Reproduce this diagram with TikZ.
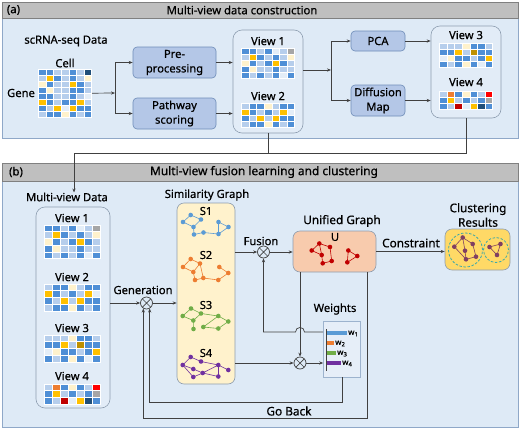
\documentclass[tikz,border=0pt]{standalone}
\usepackage{fontspec}
\setmainfont{Noto Sans}[FakeBold=0.6]
\usetikzlibrary{arrows.meta,calc}
\definecolor{mB}{HTML}{4F8FD6}
\definecolor{mL}{HTML}{B6CEEC}
\definecolor{mW}{HTML}{E4EEF8}
\definecolor{mP}{HTML}{FFF2CC}
\definecolor{mY}{HTML}{FFC000}
\definecolor{mK}{HTML}{BF9000}
\definecolor{mN}{HTML}{1F4E79}
\definecolor{mR}{HTML}{FF0000}
\definecolor{mD}{HTML}{C00000}
\definecolor{mG}{HTML}{A6A6A6}
\definecolor{mO}{HTML}{ED7D31}
\definecolor{pbody}{HTML}{DEEAF6}
\definecolor{pbord}{HTML}{8FA8C8}
\definecolor{hfill}{HTML}{BFBFBF}
\definecolor{hbord}{HTML}{808080}
\definecolor{procfill}{HTML}{B4C7E7}
\definecolor{procbd}{HTML}{6E8CB8}
\definecolor{viewfill}{HTML}{E2ECF7}
\definecolor{viewbd}{HTML}{8D9DB0}
\definecolor{cline}{HTML}{404040}
\definecolor{gBlue}{HTML}{5B9BD5}
\definecolor{gOrange}{HTML}{ED7D31}
\definecolor{gGreen}{HTML}{70AD47}
\definecolor{gPurple}{HTML}{7030A0}
\definecolor{gRed}{HTML}{C00000}
\definecolor{gPlum}{HTML}{7F3F62}
\definecolor{simfill}{HTML}{FFF2CC}
\definecolor{unifill}{HTML}{F8CBAD}
\definecolor{clufill}{HTML}{FFD966}
\definecolor{ringc}{HTML}{3FA9A8}
\definecolor{wfill}{HTML}{E6EEF8}
\definecolor{wbd}{HTML}{9DB3CE}
\newcommand\heatmap[5]{%
  \foreach \hrow [count=\hr] in {#5} {
    \foreach \hc [count=\hk] in \hrow {
      \path[fill=m\hc, draw=white, line width=0.5pt] ({#1+(\hk-1)*#3},{#2+(\hr-1)*#4}) rectangle ++(#3,#4);
    }
  }
}
\newcommand\netgraph[3]{%
  \foreach \px/\py [count=\qi] in {#2} {\coordinate (q\qi) at (\px,\py);}
  \foreach \ea/\eb in {#3} {\draw[draw=#1, line width=0.6pt] (q\ea) -- (q\eb);}
  \foreach \px/\py in {#2} {\fill[fill=#1] (\px,\py) circle (2.3pt);}
}
\begin{document}
\begin{tikzpicture}[x=1pt,y=-1pt,
  font=\fontsize{11.2}{14.5}\selectfont,
  conn/.style={draw=cline, line width=0.7pt, -{Stealth[length=4pt,width=3.2pt]}},
  plain/.style={draw=cline, line width=0.7pt},
  procbox/.style={draw=procbd, fill=procfill, rounded corners=4pt, line width=0.6pt, align=center, inner sep=0pt},
  viewbox/.style={draw=viewbd, fill=viewfill, rounded corners=9pt, line width=0.6pt, inner sep=0pt},
  gbox/.style={draw=viewbd, rounded corners=7pt, line width=0.6pt, inner sep=0pt},
  otim/.style={circle, draw=cline, line width=0.7pt, minimum size=12pt, inner sep=0pt,
    path picture={\draw[cline, line width=0.7pt] (path picture bounding box.north west) -- (path picture bounding box.south east) (path picture bounding box.north east) -- (path picture bounding box.south west);}},
  lbl/.style={inner sep=0pt},
  big/.style={inner sep=0pt, font=\fontsize{11.8}{14.5}\selectfont},
  bl/.style={inner sep=0pt, font=\fontsize{11}{14}\selectfont\bfseries},
  hdr/.style={inner sep=0pt, font=\fontsize{11.3}{13}\selectfont},
  wl/.style={inner sep=0pt, anchor=west, font=\fontsize{8}{9}\selectfont}
]
\useasboundingbox (0,0) rectangle (520,429);
\fill[white] (0,0) rectangle (520,429);
% ---------- panel (a)
\draw[pbord, fill=pbody, line width=0.7pt] (2,18) rectangle (518,138);
\draw[hbord, fill=hfill, line width=0.7pt] (2,2) rectangle (518,18);
\node[hdr] (pa) at (13.5,10) {(a)};
\node[hdr] (ta) at (242,10) {Multi-view data construction};
\node[lbl] (scd) at (66,41) {scRNA-seq Data};
\node[lbl] (cellt) at (65,63) {Cell};
\node[lbl] (genet) at (21,93) {Gene};
\node[inner sep=0pt, minimum width=53.2pt, minimum height=48pt, anchor=north west] (gmat) at (38.5,69) {};
\heatmap{38.5}{69}{7.6}{6}{{B,B,L,L,B,L,N},{L,Y,B,L,B,L,P},{P,B,L,L,Y,B,L},{B,P,L,L,B,B,L},{B,B,L,L,B,L,W},{Y,B,L,B,B,Y,L},{B,L,Y,W,Y,B,B},{L,B,B,P,B,L,B}}
\node[procbox, minimum width=83pt, minimum height=31pt] (pre) at (174.5,62.5) {Pre-\\processing};
\node[procbox, minimum width=83pt, minimum height=31pt] (pws) at (174.5,113.5) {Pathway\\scoring};
\node[viewbox, minimum width=70pt, minimum height=103pt] (v12) at (268,81.5) {};
\node[lbl] (v1t) at (268,41) {View 1};
\heatmap{241.5}{48}{7.6}{6}{{B,B,L,B,W,L,G},{L,Y,B,L,B,L,P},{P,B,L,B,Y,B,L},{B,P,L,L,B,L,L},{B,L,B,L,B,W,B}}
\node[lbl] (v2t) at (268,96) {View 2};
\heatmap{241.5}{103}{7.6}{6}{{L,B,B,P,L,B,B},{Y,B,L,B,L,Y,W},{B,L,Y,L,Y,B,B},{L,B,B,P,B,L,B}}
\node[procbox, minimum width=54pt, minimum height=20pt] (pca) at (378,41) {PCA};
\node[procbox, minimum width=54pt, minimum height=31pt] (dif) at (378,100.5) {Diffusion\\Map};
\node[viewbox, minimum width=70pt, minimum height=92pt] (v34) at (466,72) {};
\node[lbl] (v3t) at (466,35) {View 3};
\heatmap{439.5}{43}{7.6}{6}{{L,L,L,P,B,B,L},{B,B,Y,L,K,B,B},{W,P,B,B,L,B,Y},{B,L,B,P,B,W,B}}
\node[lbl] (v4t) at (466,82) {View 4};
\heatmap{439.5}{91}{7.6}{6}{{L,O,B,P,B,L,R},{B,Y,L,B,L,B,G},{B,L,D,W,Y,N,B}}
\coordinate (sp1) at (115,93);
\draw[conn] (gmat.east) -- (sp1);
\draw[conn] (sp1) |- (pre.west);
\draw[conn] (sp1) |- (pws.west);
\draw[conn] (pre.east) -- (pre.east -| v12.west);
\draw[conn] (pws.east) -- (pws.east -| v12.west);
\coordinate (sp2) at (331,70);
\draw[conn] (v12.east |- sp2) -- (sp2);
\draw[conn] (sp2) |- (pca.west);
\draw[conn] (sp2) |- (dif.west);
\draw[conn] (pca.east) -- (pca.east -| v34.west);
\draw[conn] (dif.east) -- (dif.east -| v34.west);
% ---------- panel (b)
\draw[pbord, fill=pbody, line width=0.7pt] (2,181) rectangle (518,427);
\draw[hbord, fill=hfill, line width=0.7pt] (2,163) rectangle (518,181);
\node[hdr] (pb) at (16,172) {(b)};
\node[hdr, font=\fontsize{11.9}{13}\selectfont] (tb) at (264,172) {Multi-view fusion learning and clustering};
\node[lbl] (mvdt) at (67,197) {Multi-view Data};
\coordinate (jn) at (74,153);
\draw[plain] (v12.south) -- (v12.south |- jn);
\draw[conn] (v34.south) |- (jn) -- (jn |- mvdt.north);
\node[viewbox, minimum width=74pt, minimum height=201pt] (mvd) at (73,307.5) {};
\node[lbl] (bv1) at (72,218) {View 1};
\heatmap{44}{225}{8}{6.7}{{B,B,L,B,W,L,G},{L,Y,B,L,B,L,P},{P,B,L,B,Y,B,L},{B,P,L,L,B,L,L},{B,L,B,L,B,W,B}}
\node[lbl] (bv2) at (72,277) {View 2};
\heatmap{44}{284}{8}{6.7}{{L,B,B,P,L,B,B},{Y,B,L,B,L,Y,W},{B,L,Y,L,Y,B,B},{L,B,B,P,B,L,B}}
\node[lbl] (bv3) at (72,328) {View 3};
\heatmap{44}{335}{8}{6.7}{{L,L,L,P,B,B,L},{B,B,Y,L,K,B,B},{W,P,B,B,L,B,Y},{B,L,B,P,B,W,B}}
\node[lbl] (bv4) at (72,376) {View 4};
\heatmap{44}{384}{8}{6.7}{{L,O,B,P,B,L,R},{B,Y,L,B,L,B,G},{B,L,D,W,Y,N,B}}
% generation
\node[otim] (gen) at (146.5,303) {};
\node[lbl] (gent) at (143,290) {Generation};
% similarity graph
\node[gbox, fill=simfill, minimum width=58pt, minimum height=181pt] (sim) at (206,293.5) {};
\node[lbl] (simt) at (207,195) {Similarity Graph};
\node[bl] (s1) at (206,211) {S1};
\node[bl] (s2) at (206,255) {S2};
\node[bl] (s3) at (206,305) {S3};
\node[bl] (s4) at (206,353) {S4};
\netgraph{gBlue}{190.7/215, 183/222, 201/219.5, 193.5/227, 194/234.5, 203.5/232.5, 218.5/222, 228.5/227, 218.5/234}{1/2,1/3,2/4,3/4,4/5,5/6,6/9,9/7,7/8,8/9}
\netgraph{gOrange}{190.7/259, 183/267, 200/263.5, 193.3/272, 195/280, 203.3/278, 219.3/267, 228.3/273, 218.3/280}{1/2,1/3,2/4,3/4,3/6,4/5,5/6,6/9,9/8,8/7}
\netgraph{gGreen}{191/308.5, 182.7/316, 201/313.5, 193.3/320.5, 193.5/329, 203.3/327, 218.3/316, 228.3/321.5, 218.3/328.5}{1/2,1/3,2/4,3/4,4/5,6/7,7/8,8/9,9/6,3/7}
\netgraph{gPurple}{190.7/357, 182.7/365, 201/361.5, 193.3/369, 193.3/377, 202.7/373, 218.3/365, 228.3/370, 218.3/376.5}{1/2,1/3,2/4,2/5,4/6,5/6,6/7,3/7,7/8,7/9,6/9}
% fusion
\node[otim] (fus) at (263.5,252) {};
\node[lbl] (fust) at (261,241) {Fusion};
% unified graph
\node[gbox, fill=unifill, minimum width=83pt, minimum height=41pt] (uni) at (334.5,251.5) {};
\node[big] (unit) at (342,221) {Unified Graph};
\node[bl] (ut) at (335,237) {U};
\netgraph{gRed}{319.3/243.5, 311.7/250.5, 330/247, 321.7/255, 322.7/263.3, 331.7/261, 348.3/250.5, 357.3/256, 347.3/262.3}{1/2,1/3,1/4,2/4,4/5,5/6,6/3,7/8,8/9,9/7}
% clustering
\node[gbox, fill=clufill, minimum width=65pt, minimum height=41pt] (clu) at (477.5,249.5) {};
\node[big, align=center] (clut) at (478,215) {Clustering\\Results};
\draw[ringc, line width=0.8pt, dash pattern=on 2.5pt off 1.6pt] (465.5,250) circle (17pt);
\draw[ringc, line width=0.8pt, dash pattern=on 2.5pt off 1.6pt] (496,250) circle (12.5pt);
\netgraph{gPlum}{462.7/237.5, 454.3/246.7, 472.7/244, 465/250.7, 466/259.3, 476/256.7, 489.5/247, 500.5/244, 497/255}{1/2,1/3,1/4,4/5,2/5,5/6,6/3,7/8,7/9,8/9}
\node[big] (cont) at (411,243) {Constraint};
% weights
\node[otim] (wot) at (300,363) {};
\node[draw=wbd, fill=wfill, line width=0.6pt, minimum width=37pt, minimum height=56pt, inner sep=0pt] (wts) at (342,349) {};
\node[lbl] (wtst) at (335,309) {Weights};
\draw[cline, line width=0.8pt] (326.5,329) -- (326.5,371);
\fill[gBlue] (327,331.3) rectangle (347,334.7);
\fill[gOrange] (327,341.3) rectangle (334,344.7);
\fill[gGreen] (327,351.3) rectangle (336,354.7);
\fill[gPurple] (327,361.3) rectangle (341,364.7);
\node[wl] (w1) at (348,333.5) {w\textsubscript{1}};
\node[wl] (w2) at (335,343.5) {w\textsubscript{2}};
\node[wl] (w3) at (337,353.5) {w\textsubscript{3}};
\node[wl] (w4) at (342,363.5) {w\textsubscript{4}};
% connectors (b)
\draw[conn] (mvd.east |- gen) -- (gen);
\draw[conn] (gen) -- (gen -| sim.west);
\draw[conn] (sim.east |- fus) -- (fus);
\draw[conn] (fus) -- (fus -| uni.west);
\draw[conn] (uni.east) -- (uni.east -| clu.west);
\draw[conn] (uni.south -| wot) -- (wot);
\draw[conn] (sim.east |- wot) -- (wot);
\draw[conn] (wot) -- (wot -| wts.west);
\coordinate (brY) at (0,332);
\coordinate (brR) at (304.5,332);
\coordinate (brL) at (295.5,332);
\coordinate (brTR) at (304.5,326);
\coordinate (brTL) at (295.5,326);
\draw[conn] (wts.west |- brY) -- (brR) .. controls (brTR) and (brTL) .. (brL) -- (fus |- brY) -- (fus);
\coordinate (gbY) at (0,402);
\draw[conn] (wts.south) -- (wts.south |- gbY) -| (gen.-60);
\node[big] (gbt) at (289,411) {Go Back};
\coordinate (ugo) at (367,418);
\draw[conn] (uni.south -| ugo) -- (ugo) -| (gen.-120);
\end{tikzpicture}
\end{document}
